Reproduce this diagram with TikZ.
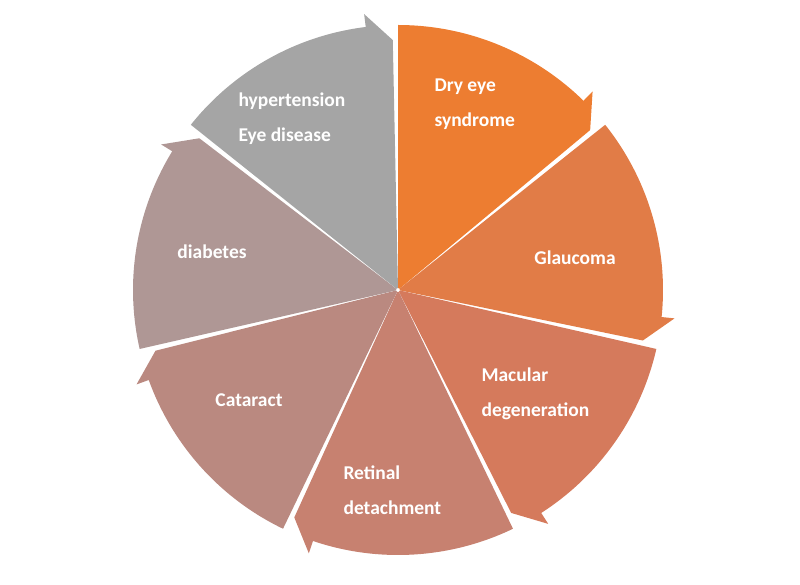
\documentclass[tikz,border=0pt]{standalone}
\usepackage{fontspec}
\setmainfont{Carlito}
\usetikzlibrary{calc}
\begin{document}
\begin{tikzpicture}[x=1pt,y=-1pt,
  lbl/.style={text=white,font=\bfseries\fontsize{19.5}{35}\selectfont,align=left,anchor=west}]
\useasboundingbox (0,0) rectangle (800,585);
\definecolor{c0}{RGB}{237,125,49}
\definecolor{c1}{RGB}{225,124,71}
\definecolor{c2}{RGB}{213,122,92}
\definecolor{c3}{RGB}{199,129,112}
\definecolor{c4}{RGB}{186,137,128}
\definecolor{c5}{RGB}{175,151,149}
\definecolor{c6}{RGB}{165,165,165}
\coordinate (O) at (398,290);
\foreach \i in {0,...,6}{
  \pgfmathsetmacro{\ao}{90-\i*51.4286}
  \pgfmathsetmacro{\ai}{\ao-51.4286+7}
  \pgfmathsetmacro{\at}{\ao-51.4286+1.2}
  \pgfmathsetmacro{\am}{\ao-25.7}
  \begin{scope}[shift={(-\am:5)}]
  \fill[c\i] ($(O)+(-\ao:2)$) -- ($(O)+(-\ao:265)$) arc[start angle=-\ao,end angle=-\ai,radius=265]
     -- ($(O)+(-\ai:278)$) -- ($(O)+(-\at:250)$) -- ($(O)+(-\at:2)$) -- cycle;
  \end{scope}
}
\node[lbl] (t0) at (431,104) {Dry eye\\syndrome};
\node[lbl,anchor=center] (t1) at (575,258) {Glaucoma};
\node[lbl] (t2) at (478,394) {Macular\\degeneration};
\node[lbl] (t3) at (340,490) {Retinal\\detachment};
\node[lbl,anchor=center] (t4) at (249,400) {Cataract};
\node[lbl,anchor=center] (t5) at (212,252) {diabetes};
\node[lbl] (t6) at (235,119) {hypertension\\Eye disease};
\end{tikzpicture}
\end{document}
